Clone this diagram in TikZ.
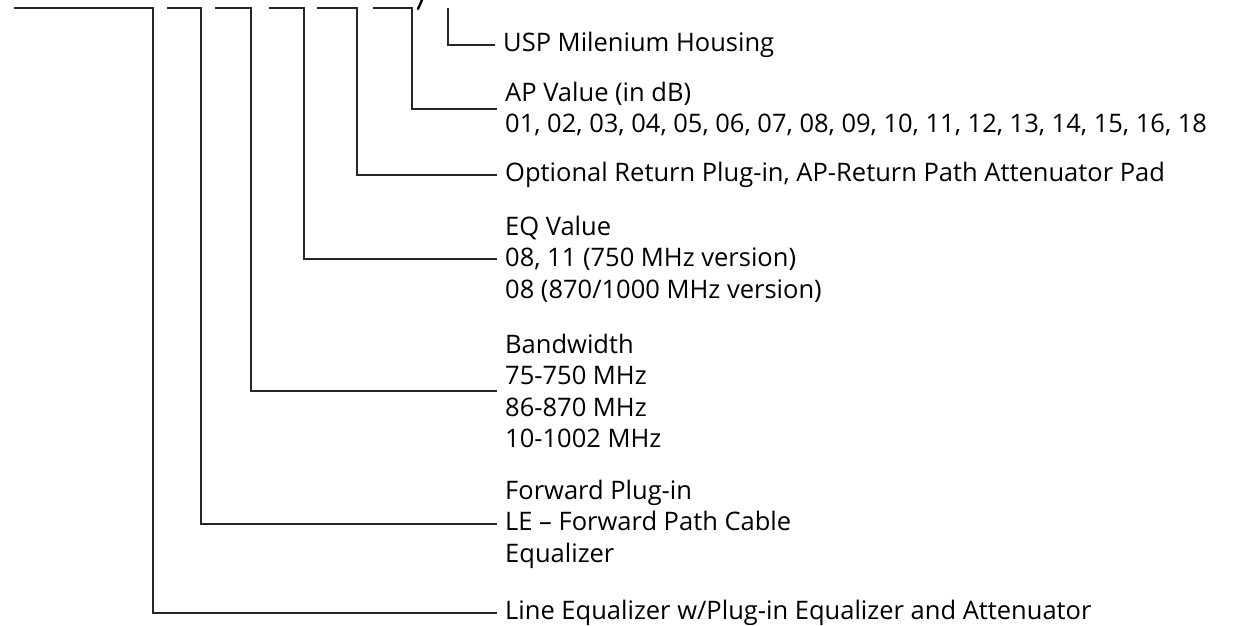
\documentclass[tikz,border=0pt]{standalone}
\usepackage{fontspec}
\setmainfont{Open Sans}
\begin{document}
\begin{tikzpicture}[x=1bp,y=-1bp,
  conn/.style={line width=1.1bp, draw=black!85},
  lbl/.style={anchor=west, inner xsep=8bp, inner ysep=0pt, align=left,
    font=\fontsize{25.5bp}{31.5bp}\selectfont}]
\useasboundingbox (0,0) rectangle (1243,626);
% labels
\node[lbl] (usp) at (495,45) {USP Milenium Housing};
\node[lbl] (ap) at (497,109) {AP Value (in dB)\\01, 02, 03, 04, 05, 06, 07, 08, 09, 10, 11, 12, 13, 14, 15, 16, 18};
\node[lbl] (opt) at (497,175) {Optional Return Plug-in, AP-Return Path Attenuator Pad};
\node[lbl] (eq) at (497,259) {EQ Value\\08, 11 (750 MHz version)\\08 (870/1000 MHz version)};
\node[lbl] (bw) at (497,391) {Bandwidth\\75-750 MHz\\86-870 MHz\\10-1002 MHz};
\node[lbl] (fwd) at (497,524) {Forward Plug-in\\LE – Forward Path Cable\\Equalizer};
\node[lbl] (le) at (497,613) {Line Equalizer w/Plug-in Equalizer and Attenuator};
% top ends of the brackets
\coordinate (a0) at (14,8);  \coordinate (a1) at (153,8);
\coordinate (b0) at (167,8); \coordinate (b1) at (201,8);
\coordinate (c0) at (215,8); \coordinate (c1) at (251,8);
\coordinate (d0) at (269,8); \coordinate (d1) at (304,8);
\coordinate (e0) at (317,8); \coordinate (e1) at (357,8);
\coordinate (f0) at (373,8); \coordinate (f1) at (412,8);
\coordinate (g1) at (448,8);
% connectors
\draw[conn] (a0) -- (a1) |- (le.west);
\draw[conn] (b0) -- (b1) |- (fwd.west);
\draw[conn] (c0) -- (c1) |- (bw.west);
\draw[conn] (d0) -- (d1) |- (eq.west);
\draw[conn] (e0) -- (e1) |- (opt.west);
\draw[conn] (f0) -- (f1) |- (ap.west);
\draw[conn] (g1) |- (usp.west);
% clipped mark at the top edge
\draw[line width=2.4bp, line cap=round] (422,0) -- (418,9);
\end{tikzpicture}
\end{document}
